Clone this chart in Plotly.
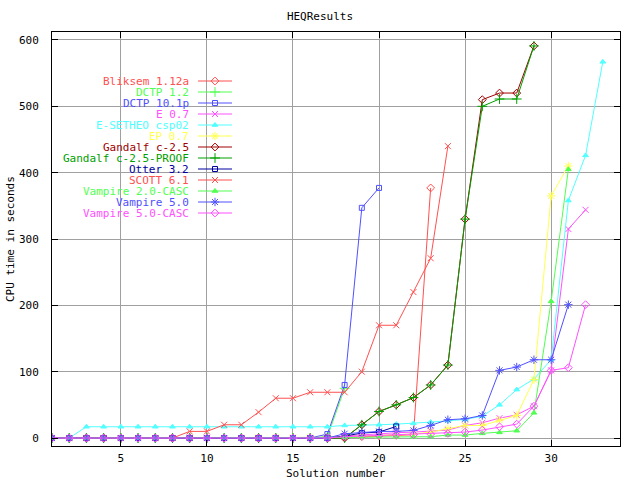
import plotly.graph_objects as go

# ---------------- data ----------------
series_names = [
    "Bliksem 1.12a", "DCTP 1.2", "DCTP 10.1p", "E 0.7", "E-SETHEO csp02", "EP 0.7",
    "Gandalf c-2.5", "Gandalf c-2.5-PROOF", "Otter 3.2", "SCOTT 6.1",
    "Vampire 2.0-CASC", "Vampire 5.0", "Vampire 5.0-CASC",
]

bliksem = [0] * 17 + [1, 2, 3, 4, 5, 377]
dctp12 = [0] * 16 + [2, 75]
dctp101p = [0] * 16 + [6, 80, 347, 377]
e07 = [0] * 17 + [3, 5, 7, 8, 9, 11, 12, 19, 23, 30, 35, 48, 102, 315, 344]
esetheo = [0, 0] + [17] * 15 + [19, 19, 20, 21, 22, 24, 26, 28, 33, 50, 73, 89, 118, 358, 426, 567]
ep07 = [0] * 12 + [1] * 5 + [2, 3, 4, 5, 6, 9, 14, 19, 19, 27, 34, 88, 365, 410]
gandalf = [0] * 18 + [20, 40, 50, 61, 80, 110, 330, 510, 520, 520, 591]
gandalf_proof = [0] * 18 + [20, 40, 50, 61, 80, 110, 330, 500, 511, 511, 591]
otter = [0] * 17 + [3, 7.5, 9, 17.5]
scott = [0] * 8 + [10, 10, 20, 20, 39, 60, 60, 69, 69, 69, 100, 170, 170, 220, 271, 440]
vampire20casc = [0] * 17 + [1, 1, 1.5, 1.5, 1.5, 2, 4.5, 4.5, 7, 8.5, 11, 38, 206, 405]
vampire50 = [0] * 17 + [6.5, 8.5, 10, 10, 11.5, 19, 27.6, 29, 34, 102, 107, 118, 118, 201]
vampire50casc = [0] * 17 + [2, 3, 4, 5, 5, 6, 7, 9, 12, 17, 21, 48, 102, 106, 201]

series_values = [
    bliksem, dctp12, dctp101p, e07, esetheo, ep07, gandalf, gandalf_proof,
    otter, scott, vampire20casc, vampire50, vampire50casc,
]

x_ticks = [5, 10, 15, 20, 25, 30]
y_ticks = [0, 100, 200, 300, 400, 500, 600]

# ---------------- styles ----------------
colors = [
    "#ff5050", "#50ff50", "#5050ff", "#ff50ff", "#50ffff", "#ffff50",
    "#a00000", "#00a000", "#0000a0", "#ff5050", "#50ff50", "#5050ff", "#ff50ff",
]
symbols = [
    "diamond-open", "cross-thin-open", "square-open", "x-thin-open", "triangle-up", "asterisk-open",
    "diamond-open", "cross-thin-open", "square-open", "x-thin-open", "triangle-up", "asterisk-open",
    "diamond-open",
]
sizes = {"diamond-open": 6, "cross-thin-open": 7, "square-open": 5, "x-thin-open": 6,
         "triangle-up": 5, "asterisk-open": 7}

FONT = "DejaVu Sans Mono"

fig = go.Figure()

for name, vals, c, s in zip(series_names, series_values, colors, symbols):
    xs = list(range(1, len(vals) + 1))
    fig.add_trace(go.Scatter(
        x=xs, y=vals, mode="lines+markers", name=name,
        line=dict(color=c, width=1),
        marker=dict(symbol=s, size=sizes[s], color=c, line=dict(color=c, width=1)),
        showlegend=False, xaxis="x", yaxis="y",
    ))

# ---------------- manual legend (pixel-coordinate overlay axes) ----------------
L, R, T, B = 52, 620, 32, 446
leg_top = 81
leg_step = 11
for i, (name, c, s) in enumerate(zip(series_names, colors, symbols)):
    yy = leg_top + i * leg_step
    fig.add_trace(go.Scatter(
        x=[198, 232], y=[yy, yy], mode="lines", line=dict(color=c, width=1),
        showlegend=False, xaxis="x2", yaxis="y2", hoverinfo="skip",
    ))
    fig.add_trace(go.Scatter(
        x=[215], y=[yy], mode="markers",
        marker=dict(symbol=s, size=sizes[s], color=c, line=dict(color=c, width=1)),
        showlegend=False, xaxis="x2", yaxis="y2", hoverinfo="skip",
    ))
    fig.add_annotation(
        x=191, y=yy, xref="x2", yref="y2", text=name, showarrow=False,
        xanchor="right", yanchor="middle", font=dict(family=FONT, size=11, color=c),
    )

fig.update_layout(
    width=640, height=480,
    margin=dict(l=L, r=640 - R, t=T, b=480 - B, pad=0),
    paper_bgcolor="white", plot_bgcolor="white",
    font=dict(family=FONT, size=11, color="black"),
    title=dict(text="HEQResults", x=0.5, xref="container", xanchor="center",
               y=1 - 16 / 480, yref="container", yanchor="middle",
               font=dict(family=FONT, size=11, color="black")),
    xaxis=dict(
        range=[1, 34], tickvals=x_ticks, ticktext=[str(v) for v in x_ticks],
        showgrid=True, gridcolor="#a0a0a0", gridwidth=1, zeroline=False,
        showline=True, linecolor="black", linewidth=1, mirror="ticks",
        ticks="inside", ticklen=6, tickcolor="black",
        tickfont=dict(family=FONT, size=11, color="black"),
        ticklabelstandoff=2,
    ),
    yaxis=dict(
        range=[-12, 612], tickvals=y_ticks, ticktext=[str(v) for v in y_ticks],
        showgrid=True, gridcolor="#a0a0a0", gridwidth=1, zeroline=False,
        showline=True, linecolor="black", linewidth=1, mirror="ticks",
        ticks="inside", ticklen=6, tickcolor="black",
        tickfont=dict(family=FONT, size=11, color="black"),
        ticklabelstandoff=10,
    ),
    xaxis2=dict(range=[L, R], overlaying="x", visible=False, fixedrange=True),
    yaxis2=dict(range=[B, T], overlaying="y", visible=False, fixedrange=True),
)

fig.add_annotation(x=0.5, y=-(473 - B) / (B - T), xref="paper", yref="paper",
                   text="Solution number", showarrow=False, xanchor="center", yanchor="middle",
                   font=dict(family=FONT, size=11, color="black"))
fig.add_annotation(x=-(L - 10) / (R - L), y=0.5, xref="paper", yref="paper",
                   text="CPU time in seconds", showarrow=False, textangle=-90,
                   xanchor="center", yanchor="middle",
                   font=dict(family=FONT, size=11, color="black"))

fig.write_html("out.html", config={"displayModeBar": False},
               post_script="document.body.style.margin='0';")
